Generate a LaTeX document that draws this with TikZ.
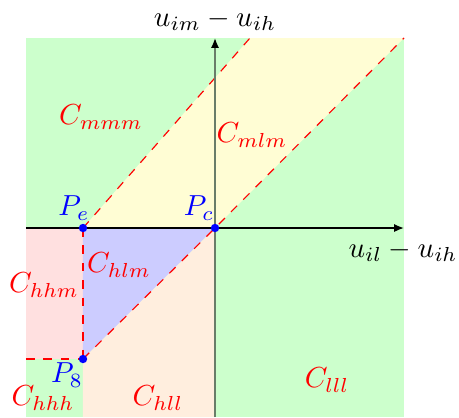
\documentclass[tikz,border=0pt]{standalone}
\usetikzlibrary{arrows.meta}
\definecolor{axisgray}{RGB}{105,125,105}
\begin{document}
\begin{tikzpicture}[x=0.345pt,y=0.345pt,
  region/.style={draw=none},
  border/.style={red,dashed,line width=0.4pt},
  clabel/.style={red,inner sep=0pt},
  plabel/.style={blue,inner sep=0pt},
  alabel/.style={black,inner sep=0pt},
  dot/.style={circle,fill=blue,inner sep=0pt,minimum size=2.9pt},
  axis/.style={line width=0.55pt,-{Latex[length=3.4pt,width=2.8pt,color=black]}}]
\useasboundingbox (-215,-189) rectangle (244,228);
% key points
\coordinate (Pc) at (0,0);
\coordinate (Pe) at (-132,0);
\coordinate (P8) at (-132,-131);
\coordinate (TL) at (35,190);
\coordinate (TR) at (189,190);
\coordinate (L8) at (-189,-131);
% regions
\fill[green!20] (-189,-189) rectangle (189,190);
\fill[yellow!17] (Pe) -- (TL) -- (TR) -- (Pc) -- cycle;
\fill[red!12] (-189,0) rectangle (P8);
\fill[blue!20] (Pe) -- (Pc) -- (P8) -- cycle;
\fill[orange!13] (P8) -- (Pc) -- (0,-189) -- (-132,-189) -- cycle;
% borders
\draw[border] (Pe) -- (TL);
\draw[border] (P8) -- (Pc) -- (TR);
\draw[border] (Pe) -- (P8);
\draw[border] (L8) -- (P8);
% axes
\coordinate (ybot) at (0,-189);
\coordinate (ytop) at (0,190);
\coordinate (xl) at (-189,0);
\coordinate (xr) at (189,0);
\draw[axis,axisgray] (ybot) -- (ytop);
\draw[axis,black] (xl) -- (xr);
\node[alabel] (ylab) at (0,208) {$u_{im}-u_{ih}$};
\node[alabel] (xlab) at (188,-23) {$u_{il}-u_{ih}$};
% dots
\node[dot] (dPc) at (Pc) {};
\node[dot] (dPe) at (Pe) {};
\node[dot] (dP8) at (P8) {};
% labels
\node[plabel] (lPe) at (-141,20) {$P_e$};
\node[plabel] (lPc) at (-16,20) {$P_c$};
\node[plabel] (lP8) at (-148,-147) {$P_8$};
\node[clabel] (cmmm) at (-114,111) {$C_{mmm}$};
\node[clabel] (cmlm) at (37,93) {$C_{mlm}$};
\node[clabel] (chlm) at (-96,-37) {$C_{hlm}$};
\node[clabel] (chhm) at (-171,-57) {$C_{hhm}$};
\node[clabel] (chhh) at (-172,-170) {$C_{hhh}$};
\node[clabel] (chll) at (-57,-170) {$C_{hll}$};
\node[clabel] (clll) at (112,-152) {$C_{lll}$};
\end{tikzpicture}
\end{document}
